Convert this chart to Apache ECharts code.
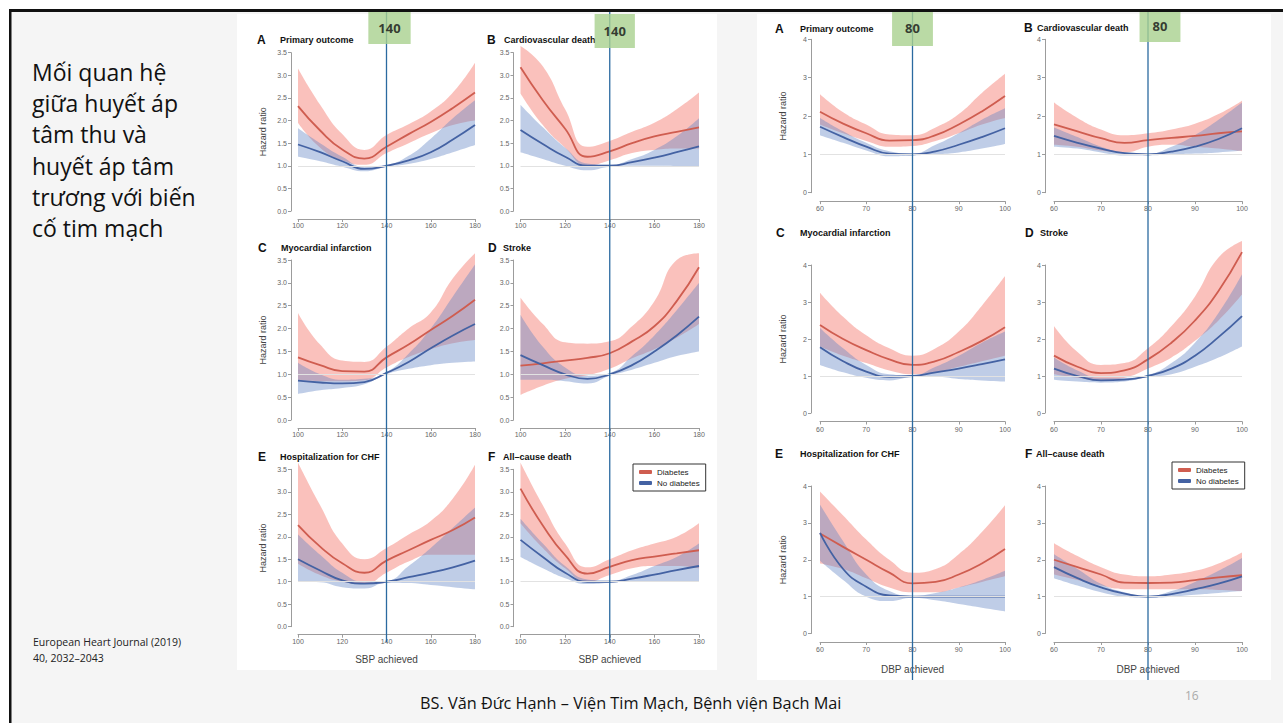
<!DOCTYPE html>
<html><head><meta charset="utf-8">
<script src="https://cdn.jsdelivr.net/npm/echarts@6/dist/echarts.min.js"></script>
<style>html,body{margin:0;padding:0;background:#fff;}#c{width:1283px;height:723px;}</style>
</head><body><div id="c"></div>
<script>
// ---------- categories / reference values ----------
const SBP_X = ['100','110','120','130','140','150','160','170','180'];
const DBP_X = ['60','65','70','75','80','85','90','95','100'];
const SBP_REF = '140';
const DBP_REF = '80';

// ---------- SBP panels ----------
const SBP_A_DIAB    = [2.32,1.78,1.36,1.16,1.42,1.70,1.97,2.28,2.62];
const SBP_A_DIAB_LO = [1.95,1.40,1.12,1.02,1.28,1.50,1.72,1.90,2.00];
const SBP_A_DIAB_HI = [3.15,2.35,1.70,1.35,1.68,1.92,2.20,2.62,3.28];
const SBP_A_NODM    = [1.47,1.30,1.10,0.93,1.00,1.12,1.30,1.58,1.90];
const SBP_A_NODM_LO = [1.20,1.10,0.98,0.88,0.98,1.04,1.15,1.30,1.46];
const SBP_A_NODM_HI = [1.83,1.50,1.20,0.98,1.02,1.22,1.60,2.05,2.45];

const SBP_B_DIAB    = [3.18,2.45,1.82,1.20,1.32,1.50,1.65,1.75,1.85];
const SBP_B_DIAB_LO = [2.60,1.90,1.40,1.00,1.12,1.28,1.35,1.38,1.38];
const SBP_B_DIAB_HI = [3.65,3.20,2.25,1.42,1.55,1.75,1.95,2.25,2.62];
const SBP_B_NODM    = [1.79,1.48,1.20,1.00,1.00,1.08,1.18,1.30,1.43];
const SBP_B_NODM_LO = [1.30,1.15,1.00,0.90,0.98,1.00,1.00,0.99,0.98];
const SBP_B_NODM_HI = [2.35,1.85,1.40,1.05,1.02,1.15,1.35,1.65,2.05];

const SBP_C_DIAB    = [1.37,1.20,1.07,1.06,1.37,1.65,1.97,2.28,2.63];
const SBP_C_DIAB_LO = [0.88,0.85,0.85,0.87,1.15,1.38,1.55,1.68,1.75];
const SBP_C_DIAB_HI = [2.34,1.65,1.30,1.27,1.60,2.00,2.35,3.10,3.65];
const SBP_C_NODM    = [0.86,0.82,0.80,0.83,1.03,1.27,1.57,1.85,2.10];
const SBP_C_NODM_LO = [0.57,0.65,0.70,0.78,1.00,1.12,1.20,1.25,1.28];
const SBP_C_NODM_HI = [1.25,1.00,0.88,0.90,1.05,1.45,2.00,2.70,3.40];

const SBP_D_DIAB    = [1.19,1.24,1.30,1.36,1.46,1.72,2.05,2.60,3.34];
const SBP_D_DIAB_LO = [0.55,0.75,0.90,0.98,1.12,1.35,1.55,1.80,2.10];
const SBP_D_DIAB_HI = [2.68,2.10,1.70,1.67,1.72,2.05,2.60,3.50,3.65];
const SBP_D_NODM    = [1.42,1.20,1.00,0.90,1.00,1.20,1.50,1.85,2.26];
const SBP_D_NODM_LO = [0.88,0.88,0.85,0.80,0.97,1.10,1.25,1.40,1.50];
const SBP_D_NODM_HI = [2.30,1.60,1.15,0.97,1.03,1.40,1.85,2.40,3.00];

const SBP_E_DIAB    = [2.26,1.78,1.41,1.20,1.47,1.70,1.93,2.15,2.43];
const SBP_E_DIAB_LO = [1.40,1.15,1.00,0.95,1.20,1.45,1.60,1.60,1.60];
const SBP_E_DIAB_HI = [3.65,2.70,1.85,1.50,1.75,2.05,2.35,2.85,3.60];
const SBP_E_NODM    = [1.50,1.25,1.03,0.96,1.00,1.10,1.20,1.32,1.47];
const SBP_E_NODM_LO = [1.00,0.99,0.88,0.85,0.98,0.97,0.93,0.88,0.83];
const SBP_E_NODM_HI = [2.05,1.60,1.20,1.00,1.02,1.35,1.75,2.20,2.65];

const SBP_F_DIAB    = [3.07,2.25,1.59,1.18,1.33,1.48,1.56,1.63,1.70];
const SBP_F_DIAB_LO = [2.30,1.75,1.30,1.00,1.15,1.30,1.35,1.35,1.30];
const SBP_F_DIAB_HI = [3.65,2.70,1.85,1.32,1.50,1.70,1.85,2.00,2.30];
const SBP_F_NODM    = [1.93,1.55,1.20,1.00,1.00,1.07,1.16,1.26,1.35];
const SBP_F_NODM_LO = [1.55,1.30,1.08,0.95,0.98,1.00,1.00,1.00,1.00];
const SBP_F_NODM_HI = [2.40,1.85,1.35,1.05,1.02,1.15,1.35,1.55,1.85];

// ---------- DBP panels ----------
const DBP_A_DIAB    = [2.11,1.80,1.55,1.36,1.37,1.50,1.78,2.12,2.52];
const DBP_A_DIAB_LO = [1.78,1.55,1.35,1.20,1.22,1.35,1.55,1.78,1.95];
const DBP_A_DIAB_HI = [2.57,2.10,1.78,1.52,1.50,1.70,2.05,2.60,3.10];
const DBP_A_NODM    = [1.72,1.45,1.20,1.02,1.00,1.08,1.25,1.45,1.68];
const DBP_A_NODM_LO = [1.50,1.30,1.10,0.95,0.97,1.00,1.05,1.15,1.27];
const DBP_A_NODM_HI = [1.95,1.60,1.30,1.08,1.02,1.25,1.55,1.90,2.20];

const DBP_B_DIAB    = [1.78,1.60,1.42,1.30,1.37,1.43,1.48,1.55,1.60];
const DBP_B_DIAB_LO = [1.25,1.20,1.10,1.05,1.20,1.25,1.20,1.15,1.08];
const DBP_B_DIAB_HI = [2.35,1.95,1.65,1.50,1.55,1.65,1.80,2.05,2.40];
const DBP_B_NODM    = [1.48,1.30,1.15,1.03,1.00,1.07,1.20,1.40,1.68];
const DBP_B_NODM_LO = [1.20,1.15,1.05,0.97,0.97,1.00,1.02,1.05,1.10];
const DBP_B_NODM_HI = [1.70,1.45,1.20,1.05,1.02,1.20,1.50,1.90,2.35];

const DBP_C_DIAB    = [2.38,2.00,1.70,1.45,1.30,1.40,1.65,1.95,2.32];
const DBP_C_DIAB_LO = [1.80,1.55,1.35,1.15,1.05,1.10,1.25,1.40,1.55];
const DBP_C_DIAB_HI = [3.25,2.60,2.10,1.75,1.55,1.75,2.20,2.90,3.70];
const DBP_C_NODM    = [1.78,1.40,1.12,0.98,1.00,1.10,1.20,1.32,1.45];
const DBP_C_NODM_LO = [1.30,1.10,0.95,0.88,0.97,0.98,0.92,0.88,0.85];
const DBP_C_NODM_HI = [2.30,1.75,1.30,1.05,1.02,1.25,1.55,1.90,2.20];

const DBP_D_DIAB    = [1.55,1.25,1.08,1.15,1.45,1.90,2.50,3.30,4.35];
const DBP_D_DIAB_LO = [1.05,0.95,0.88,0.95,1.20,1.50,1.95,2.50,3.20];
const DBP_D_DIAB_HI = [2.35,1.65,1.30,1.35,1.75,2.35,3.15,4.20,4.65];
const DBP_D_NODM    = [1.20,1.00,0.88,0.90,1.00,1.20,1.55,2.05,2.62];
const DBP_D_NODM_LO = [0.90,0.85,0.82,0.85,0.97,1.05,1.25,1.50,1.80];
const DBP_D_NODM_HI = [1.50,1.15,0.95,0.95,1.03,1.35,1.90,2.70,3.75];

const DBP_E_DIAB    = [2.71,2.35,2.00,1.65,1.36,1.40,1.60,1.90,2.29];
const DBP_E_DIAB_LO = [1.90,1.75,1.50,1.25,1.12,1.12,1.25,1.40,1.55];
const DBP_E_DIAB_HI = [3.85,3.20,2.55,2.00,1.65,1.75,2.15,2.75,3.48];
const DBP_E_NODM    = [2.73,1.75,1.27,1.03,1.00,1.00,1.00,1.00,1.00];
const DBP_E_NODM_LO = [1.97,1.45,1.00,0.88,0.97,0.90,0.80,0.70,0.60];
const DBP_E_NODM_HI = [3.50,2.50,1.60,1.15,1.02,1.10,1.25,1.45,1.70];

const DBP_F_DIAB    = [2.00,1.80,1.60,1.38,1.37,1.38,1.45,1.52,1.58];
const DBP_F_DIAB_LO = [1.60,1.45,1.30,1.20,1.20,1.20,1.20,1.18,1.15];
const DBP_F_DIAB_HI = [2.45,2.10,1.80,1.60,1.55,1.60,1.70,1.90,2.20];
const DBP_F_NODM    = [1.80,1.50,1.25,1.08,1.00,1.07,1.20,1.35,1.55];
const DBP_F_NODM_LO = [1.50,1.30,1.12,1.00,0.97,1.00,1.05,1.10,1.15];
const DBP_F_NODM_HI = [2.15,1.75,1.35,1.12,1.02,1.15,1.40,1.70,2.05];

// ---------- layout (positions only) ----------
const FONT = 'Liberation Sans, Arial, sans-serif';
const RED = '#cf5d50', BLUE = '#4462a3';
const RED_BAND = 'rgba(245,125,115,0.48)', BLUE_BAND = 'rgba(95,130,195,0.40)';

const PANELS = [
  {x:SBP_X, s:[SBP_A_DIAB,SBP_A_DIAB_LO,SBP_A_DIAB_HI,SBP_A_NODM,SBP_A_NODM_LO,SBP_A_NODM_HI], L:'A', T:'Primary outcome', left:298, width:177, top:52.7, height:158.3, lx:257, tx:280, ty:40, sbp:true, ylab:true},
  {x:SBP_X, s:[SBP_B_DIAB,SBP_B_DIAB_LO,SBP_B_DIAB_HI,SBP_B_NODM,SBP_B_NODM_LO,SBP_B_NODM_HI], L:'B', T:'Cardiovascular death', left:520.5, width:178.5, top:52.7, height:158.3, lx:487, tx:504, ty:40, sbp:true},
  {x:SBP_X, s:[SBP_C_DIAB,SBP_C_DIAB_LO,SBP_C_DIAB_HI,SBP_C_NODM,SBP_C_NODM_LO,SBP_C_NODM_HI], L:'C', T:'Myocardial infarction', left:298, width:177, top:260, height:160, lx:258, tx:281, ty:248, sbp:true, ylab:true},
  {x:SBP_X, s:[SBP_D_DIAB,SBP_D_DIAB_LO,SBP_D_DIAB_HI,SBP_D_NODM,SBP_D_NODM_LO,SBP_D_NODM_HI], L:'D', T:'Stroke', left:520.5, width:178.5, top:260, height:160, lx:488, tx:503, ty:248, sbp:true},
  {x:SBP_X, s:[SBP_E_DIAB,SBP_E_DIAB_LO,SBP_E_DIAB_HI,SBP_E_NODM,SBP_E_NODM_LO,SBP_E_NODM_HI], L:'E', T:'Hospitalization for CHF', left:298, width:177, top:469.3, height:157.4, lx:258, tx:280, ty:457, sbp:true, ylab:true, xname:'SBP achieved'},
  {x:SBP_X, s:[SBP_F_DIAB,SBP_F_DIAB_LO,SBP_F_DIAB_HI,SBP_F_NODM,SBP_F_NODM_LO,SBP_F_NODM_HI], L:'F', T:'All\u2013cause death', left:520.5, width:178.5, top:469.3, height:157.4, lx:488, tx:503, ty:457, sbp:true, xname:'SBP achieved'},
  {x:DBP_X, s:[DBP_A_DIAB,DBP_A_DIAB_LO,DBP_A_DIAB_HI,DBP_A_NODM,DBP_A_NODM_LO,DBP_A_NODM_HI], L:'A', T:'Primary outcome', left:820, width:185, top:39.3, height:153.4, lx:775, tx:800, ty:29, ylab:true},
  {x:DBP_X, s:[DBP_B_DIAB,DBP_B_DIAB_LO,DBP_B_DIAB_HI,DBP_B_NODM,DBP_B_NODM_LO,DBP_B_NODM_HI], L:'B', T:'Cardiovascular death', left:1054, width:188, top:39.3, height:153.4, lx:1024, tx:1037, ty:28},
  {x:DBP_X, s:[DBP_C_DIAB,DBP_C_DIAB_LO,DBP_C_DIAB_HI,DBP_C_NODM,DBP_C_NODM_LO,DBP_C_NODM_HI], L:'C', T:'Myocardial infarction', left:820, width:185, top:265, height:148, lx:776, tx:800, ty:233, ylab:true},
  {x:DBP_X, s:[DBP_D_DIAB,DBP_D_DIAB_LO,DBP_D_DIAB_HI,DBP_D_NODM,DBP_D_NODM_LO,DBP_D_NODM_HI], L:'D', T:'Stroke', left:1054, width:188, top:265, height:148, lx:1025, tx:1040, ty:233},
  {x:DBP_X, s:[DBP_E_DIAB,DBP_E_DIAB_LO,DBP_E_DIAB_HI,DBP_E_NODM,DBP_E_NODM_LO,DBP_E_NODM_HI], L:'E', T:'Hospitalization for CHF', left:820, width:185, top:486, height:147.5, lx:775, tx:800, ty:454, ylab:true, xname:'DBP achieved'},
  {x:DBP_X, s:[DBP_F_DIAB,DBP_F_DIAB_LO,DBP_F_DIAB_HI,DBP_F_NODM,DBP_F_NODM_LO,DBP_F_NODM_HI], L:'F', T:'All\u2013cause death', left:1054, width:188, top:486, height:147.5, lx:1025, tx:1036, ty:454, xname:'DBP achieved'}
];

const VLINES = [
  {x:SBP_X, ref:SBP_REF, left:298, width:177, top:12, height:630, off:[3,16], pad:[8,10]},
  {x:SBP_X, ref:SBP_REF, left:520.5, width:178.5, top:12, height:630, off:[5,19], pad:[9,9]},
  {x:DBP_X, ref:DBP_REF, left:820, width:185, top:12, height:668, off:[0,16], pad:[10,13]},
  {x:DBP_X, ref:DBP_REF, left:1054, width:188, top:12, height:668, off:[12,14], pad:[8,13]}
];

const grid = [], xAxis = [], yAxis = [], series = [], title = [];
const axCol = '#9c9c9c';

PANELS.forEach((p, i) => {
  grid.push({left:p.left, top:p.top, width:p.width, height:p.height, containLabel:false, outerBoundsMode:'none'});
  xAxis.push({
    gridIndex:i, type:'category', data:p.x, boundaryGap:false, offset:p.sbp?8:8.5,
    axisLine:{show:true, onZero:false, lineStyle:{color:axCol, width:1}},
    axisTick:{show:true, interval:1, length:3, lineStyle:{color:axCol}},
    axisLabel:{interval:1, fontSize:7, color:'#666', margin:p.sbp?3:4, fontFamily:FONT},
    splitLine:{show:false},
    name:p.xname||'', nameLocation:'middle', nameGap:p.sbp?20:22,
    nameTextStyle:{fontSize:10, color:'#444', fontFamily:FONT}
  });
  yAxis.push({
    gridIndex:i, type:'value', min:0, max:p.sbp?3.5:4, interval:p.sbp?0.5:1, offset:p.sbp?7:9,
    axisLine:{show:true, lineStyle:{color:axCol, width:1}},
    axisTick:{show:true, length:3, lineStyle:{color:axCol}},
    axisLabel:{fontSize:7, color:'#666', margin:4, fontFamily:FONT, formatter:v => p.sbp ? v.toFixed(1) : String(v)},
    splitLine:{show:false},
    name:p.ylab?'Hazard ratio':'', nameLocation:'middle', nameGap:24, nameRotate:90,
    nameTextStyle:{fontSize:9, color:'#444', fontFamily:FONT}
  });
  const [dm, dlo, dhi, nm, nlo, nhi] = p.s;
  const base = {type:'line', xAxisIndex:i, yAxisIndex:i, symbol:'none', showSymbol:false, smooth:0.5, clip:false, silent:true, emphasis:{disabled:true}, animation:false};
  series.push(Object.assign({}, base, {stack:'r'+i, data:dlo, lineStyle:{opacity:0}, z:1,
    markLine:{silent:true, symbol:['none','none'], label:{show:false}, animation:false,
      lineStyle:{color:'#e2e2e2', width:1, type:'solid', opacity:1}, data:[{yAxis:1}]}}));
  series.push(Object.assign({}, base, {stack:'r'+i, data:dhi.map((v,k)=>+(v-dlo[k]).toFixed(3)), lineStyle:{opacity:0}, areaStyle:{color:RED_BAND, opacity:1}, z:1}));
  series.push(Object.assign({}, base, {stack:'b'+i, data:nlo, lineStyle:{opacity:0}, z:2}));
  series.push(Object.assign({}, base, {stack:'b'+i, data:nhi.map((v,k)=>+(v-nlo[k]).toFixed(3)), lineStyle:{opacity:0}, areaStyle:{color:BLUE_BAND, opacity:1}, z:2}));
  series.push(Object.assign({}, base, {name:'Diabetes', data:dm, color:RED, lineStyle:{color:RED, width:1.8}, z:3}));
  series.push(Object.assign({}, base, {name:'No diabetes', data:nm, color:BLUE, lineStyle:{color:BLUE, width:1.8}, z:3}));

  title.push({text:p.L, left:p.lx, top:p.ty-7, padding:0, textStyle:{fontSize:12, lineHeight:14, fontWeight:'bold', color:'#111', fontFamily:FONT}});
  title.push({text:p.T, left:p.tx, top:p.ty-5.5, padding:0, textStyle:{fontSize:9, lineHeight:11, fontWeight:'bold', color:'#111', fontFamily:FONT}});
});

VLINES.forEach((v, j) => {
  const gi = PANELS.length + j;
  grid.push({left:v.left, top:v.top, width:v.width, height:v.height, containLabel:false, outerBoundsMode:'none'});
  xAxis.push({gridIndex:gi, type:'category', data:v.x, boundaryGap:false, show:false});
  yAxis.push({gridIndex:gi, type:'value', min:0, max:1, show:false});
  series.push({type:'line', xAxisIndex:gi, yAxisIndex:gi, data:[[v.ref,0],[v.ref,1]], symbol:'none', showSymbol:false,
    lineStyle:{color:'#2b6aa0', width:1.3}, silent:true, z:10, animation:false});
  series.push({type:'scatter', xAxisIndex:gi, yAxisIndex:gi, data:[[v.ref,1]], symbol:'rect', symbolSize:1,
    itemStyle:{color:'rgba(0,0,0,0)'}, silent:true, z:20, animation:false,
    label:{show:true, position:'inside', formatter:v.ref, offset:v.off, padding:v.pad,
      backgroundColor:'#a9d18e', color:'#111', fontSize:13, lineHeight:16, fontWeight:'bold', fontFamily:'Open Sans, sans-serif'}});
});

const legendBase = {data:['Diabetes','No diabetes'], orient:'vertical', selectedMode:false, padding:[4,6,4,6], itemGap:3,
  itemWidth:13, itemHeight:4, icon:'roundRect', borderColor:'#333', borderWidth:1, backgroundColor:'#fff',
  textStyle:{fontSize:8, color:'#222', fontFamily:FONT}};
const legend = [
  Object.assign({}, legendBase, {left:633, top:464}),
  Object.assign({}, legendBase, {left:1172, top:462})
];

const SANS = 'Open Sans, Noto Sans, sans-serif';
const graphic = [
  {type:'rect', shape:{x:10, y:10, width:1273, height:713}, style:{fill:'#f5f5f5'}, z:-30, silent:true},
  {type:'rect', shape:{x:237, y:14, width:480, height:656}, style:{fill:'#ffffff'}, z:-20, silent:true},
  {type:'rect', shape:{x:757, y:14, width:514, height:666}, style:{fill:'#ffffff'}, z:-20, silent:true},
  {type:'rect', shape:{x:9, y:9, width:1274, height:3}, style:{fill:'#111'}, z:30, silent:true},
  {type:'rect', shape:{x:9, y:9, width:2.5, height:714}, style:{fill:'#111'}, z:30, silent:true},
  {type:'text', left:32, top:56, z:30, silent:true, style:{text:'Mối quan hệ\ngiữa huyết áp\ntâm thu và\nhuyết áp tâm\ntrương với biến\ncố tim mạch',
    fontSize:23, lineHeight:31.3, fill:'#111', fontFamily:SANS}},
  {type:'text', left:33, top:634, z:30, silent:true, style:{text:'European Heart Journal (2019)\n40, 2032\u20132043', fontSize:10.5, lineHeight:16, fill:'#222', fontFamily:SANS}},
  {type:'text', left:420, top:692, z:30, silent:true, style:{text:'BS. Văn Đức Hạnh \u2013 Viện Tim Mạch, Bệnh viện Bạch Mai', fontSize:16.3, lineHeight:22, fill:'#111', fontFamily:SANS}},
  {type:'text', left:1185, top:689, z:30, silent:true, style:{text:'16', fontSize:12, fill:'#aaa', fontFamily:SANS}}
];

const chart = echarts.init(document.getElementById('c'), null, {renderer:'svg', width:1283, height:723});
chart.setOption({
  animation:false, backgroundColor:'#ffffff',
  textStyle:{fontFamily:FONT},
  title, grid, xAxis, yAxis, series, legend, graphic, tooltip:{show:false}
});
</script>
</body></html>
